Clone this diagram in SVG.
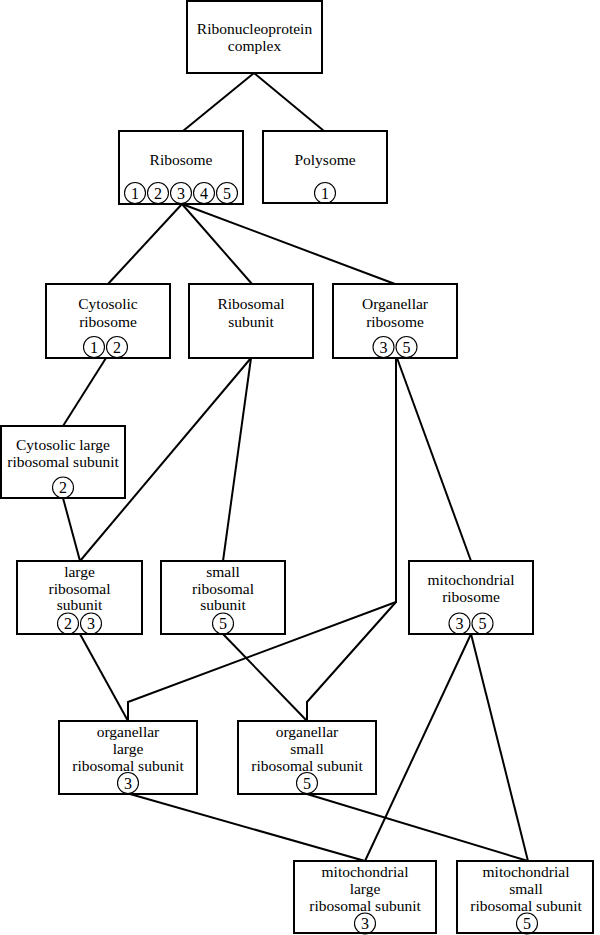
<svg xmlns="http://www.w3.org/2000/svg" width="600" height="935" viewBox="0 0 600 935" font-family="'Liberation Serif', 'Times New Roman', serif">
<style>
.box{fill:#fff;stroke:#000;stroke-width:2}
text{font-family:'Liberation Serif','Times New Roman',serif;font-size:15.5px;fill:#000;text-anchor:middle}
.n{font-size:16px}
.c{fill:none;stroke:#000;stroke-width:1.1}
.e{fill:none;stroke:#000;stroke-width:2;stroke-linejoin:miter}
</style>
<rect width="600" height="935" fill="#fff"/>
<g id="connectors">
<line class="e" x1="254" y1="73" x2="183" y2="131"/>
<line class="e" x1="254" y1="73" x2="324" y2="131"/>
<line class="e" x1="182" y1="204" x2="108" y2="284"/>
<line class="e" x1="182" y1="204" x2="252" y2="284"/>
<line class="e" x1="182" y1="204" x2="395" y2="284"/>
<line class="e" x1="106" y1="358" x2="63" y2="426"/>
<line class="e" x1="63" y1="498" x2="80" y2="561"/>
<line class="e" x1="251" y1="358" x2="80" y2="561"/>
<line class="e" x1="251" y1="358" x2="223" y2="561"/>
<polyline class="e" points="396,358 396,602 128,702 128,721"/>
<polyline class="e" points="396,602 307,702 307,721"/>
<line class="e" x1="397" y1="358" x2="471" y2="561"/>
<line class="e" x1="80" y1="634" x2="128" y2="721"/>
<line class="e" x1="223" y1="634" x2="307" y2="721"/>
<line class="e" x1="471" y1="634" x2="365" y2="861"/>
<line class="e" x1="471" y1="634" x2="528" y2="861"/>
<line class="e" x1="130" y1="794" x2="365" y2="861"/>
<line class="e" x1="307" y1="794" x2="528" y2="861"/>
</g>
<g id="rnp">
<rect class="box" x="187" y="1" width="135" height="72"/>
<text x="254.5" y="34">Ribonucleoprotein</text>
<text x="254.5" y="51">complex</text>
</g>
<g id="ribosome">
<rect class="box" x="119" y="131" width="124" height="73"/>
<text x="181" y="165">Ribosome</text>
<circle class="c" cx="135" cy="193" r="10.5"/><text class="n" x="135" y="198.5">1</text>
<circle class="c" cx="158" cy="193" r="10.5"/><text class="n" x="158" y="198.5">2</text>
<circle class="c" cx="181" cy="193" r="10.5"/><text class="n" x="181" y="198.5">3</text>
<circle class="c" cx="204" cy="193" r="10.5"/><text class="n" x="204" y="198.5">4</text>
<circle class="c" cx="227" cy="193" r="10.5"/><text class="n" x="227" y="198.5">5</text>
</g>
<g id="polysome">
<rect class="box" x="263" y="131" width="124" height="72"/>
<text x="325" y="165">Polysome</text>
<circle class="c" cx="325" cy="193" r="10.5"/><text class="n" x="325" y="198.5">1</text>
</g>
<g id="cytosolic-ribosome">
<rect class="box" x="46" y="284" width="124" height="74"/>
<text x="108" y="309">Cytosolic</text>
<text x="108" y="327">ribosome</text>
<circle class="c" cx="94" cy="347" r="10.5"/><text class="n" x="94" y="352.5">1</text>
<circle class="c" cx="117" cy="347" r="10.5"/><text class="n" x="117" y="352.5">2</text>
</g>
<g id="ribosomal-subunit">
<rect class="box" x="189" y="284" width="124" height="74"/>
<text x="251" y="309">Ribosomal</text>
<text x="251" y="327">subunit</text>
</g>
<g id="organellar-ribosome">
<rect class="box" x="333" y="284" width="124" height="74"/>
<text x="395" y="309">Organellar</text>
<text x="395" y="327">ribosome</text>
<circle class="c" cx="383.5" cy="347" r="10.5"/><text class="n" x="383.5" y="352.5">3</text>
<circle class="c" cx="406.5" cy="347" r="10.5"/><text class="n" x="406.5" y="352.5">5</text>
</g>
<g id="cytosolic-large">
<rect class="box" x="1" y="426" width="124" height="72"/>
<text x="63" y="450">Cytosolic large</text>
<text x="63" y="467">ribosomal subunit</text>
<circle class="c" cx="63" cy="487.5" r="10.5"/><text class="n" x="63" y="493">2</text>
</g>
<g id="large-subunit">
<rect class="box" x="17" y="561" width="125" height="73"/>
<text x="79.5" y="577">large</text>
<text x="79.5" y="593.5">ribosomal</text>
<text x="79.5" y="610">subunit</text>
<circle class="c" cx="68" cy="623.5" r="10.5"/><text class="n" x="68" y="629">2</text>
<circle class="c" cx="91" cy="623.5" r="10.5"/><text class="n" x="91" y="629">3</text>
</g>
<g id="small-subunit">
<rect class="box" x="161" y="561" width="124" height="73"/>
<text x="223" y="577">small</text>
<text x="223" y="593.5">ribosomal</text>
<text x="223" y="610">subunit</text>
<circle class="c" cx="223" cy="623.5" r="10.5"/><text class="n" x="223" y="629">5</text>
</g>
<g id="mito-ribosome">
<rect class="box" x="409" y="561" width="124" height="73"/>
<text x="471" y="585">mitochondrial</text>
<text x="471" y="602">ribosome</text>
<circle class="c" cx="459.5" cy="623.5" r="10.5"/><text class="n" x="459.5" y="629">3</text>
<circle class="c" cx="482.5" cy="623.5" r="10.5"/><text class="n" x="482.5" y="629">5</text>
</g>
<g id="organellar-large">
<rect class="box" x="59" y="721" width="138" height="73"/>
<text x="128" y="737">organellar</text>
<text x="128" y="754">large</text>
<text x="128" y="771">ribosomal subunit</text>
<circle class="c" cx="128" cy="783" r="10.5"/><text class="n" x="128" y="788.5">3</text>
</g>
<g id="organellar-small">
<rect class="box" x="238" y="721" width="138" height="73"/>
<text x="307" y="737">organellar</text>
<text x="307" y="754">small</text>
<text x="307" y="771">ribosomal subunit</text>
<circle class="c" cx="307" cy="783" r="10.5"/><text class="n" x="307" y="788.5">5</text>
</g>
<g id="mito-large">
<rect class="box" x="294" y="861" width="142" height="72"/>
<text x="365" y="877">mitochondrial</text>
<text x="365" y="894">large</text>
<text x="365" y="911">ribosomal subunit</text>
<circle class="c" cx="365" cy="923.5" r="10.5"/><text class="n" x="365" y="929">3</text>
</g>
<g id="mito-small">
<rect class="box" x="457" y="861" width="136" height="72"/>
<text x="526" y="877">mitochondrial</text>
<text x="526" y="894">small</text>
<text x="526" y="911">ribosomal subunit</text>
<circle class="c" cx="527" cy="923.5" r="10.5"/><text class="n" x="527" y="929">5</text>
</g>
</svg>
